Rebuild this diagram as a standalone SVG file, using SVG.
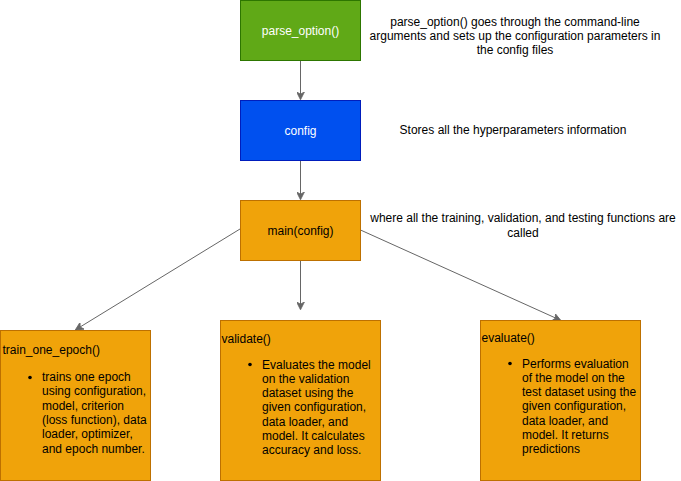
<svg xmlns="http://www.w3.org/2000/svg" width="681" height="481" viewBox="0 0 681 481">
<style>
text{font-family:"Liberation Sans",Arial,Helvetica,sans-serif;font-size:12px;fill:#000}
.w{fill:#fff}
.c{text-anchor:middle}
.edge{stroke:#666;stroke-width:1;fill:none}
.org{fill:#f0a30a;stroke:#bd7000}
</style>
<defs>
<marker id="ah" viewBox="0 0 10 10" refX="9" refY="5" markerWidth="8" markerHeight="8" markerUnits="userSpaceOnUse" orient="auto">
<path d="M0,0 L10,5 L0,10 L3,5 Z" fill="#666" stroke="#666"/>
</marker>
</defs>
<rect width="681" height="481" fill="#fff"/>
<g id="connectors">
<line class="edge" x1="300.5" y1="60.5" x2="300.5" y2="99" marker-end="url(#ah)"/>
<line class="edge" x1="300.5" y1="160.5" x2="300.5" y2="199" marker-end="url(#ah)"/>
<line class="edge" x1="300.5" y1="260.5" x2="300.5" y2="309" marker-end="url(#ah)"/>
<line class="edge" x1="240" y1="229" x2="76" y2="329.5" marker-end="url(#ah)"/>
<line class="edge" x1="360.5" y1="230" x2="560" y2="320" marker-end="url(#ah)"/>
</g>
<g id="parse_option">
<rect x="240.5" y="0.5" width="120" height="60" fill="#60a917" stroke="#2d7600"/>
<text class="c w" x="300.5" y="34.5">parse_option()</text>
</g>
<g id="config">
<rect x="240.5" y="100.5" width="120" height="60" fill="#0050ef" stroke="#001dbc"/>
<text class="c w" x="300.5" y="134.5">config</text>
</g>
<g id="main">
<rect class="org" x="240.5" y="200.5" width="120" height="60"/>
<text class="c" x="300.5" y="234.5">main(config)</text>
</g>
<g id="note_parse">
<text class="c" x="515" y="25.5">parse_option() goes through the command-line</text>
<text class="c" x="515" y="39.5">arguments and sets up the configuration parameters in</text>
<text class="c" x="515" y="54">the config files</text>
</g>
<g id="note_config">
<text class="c" x="513" y="134">Stores all the hyperparameters information</text>
</g>
<g id="note_main">
<text class="c" x="523" y="222">where all the training, validation, and testing functions are</text>
<text class="c" x="523" y="237">called</text>
</g>
<g id="train_one_epoch">
<rect class="org" x="0.5" y="330.5" width="150" height="150"/>
<text x="2.5" y="354">train_one_epoch()</text>
<circle cx="30" cy="377.5" r="1.8"/>
<text x="42" y="381">trains one epoch</text>
<text x="42" y="395.3">using configuration,</text>
<text x="42" y="409.6">model, criterion</text>
<text x="42" y="423.9">(loss function), data</text>
<text x="42" y="438.2">loader, optimizer,</text>
<text x="42" y="452.5">and epoch number.</text>
</g>
<g id="validate">
<rect class="org" x="220.5" y="320.5" width="160" height="160"/>
<text x="221.5" y="343">validate()</text>
<circle cx="250" cy="364.5" r="1.8"/>
<text x="262" y="368.5">Evaluates the model</text>
<text x="262" y="382.8">on the validation</text>
<text x="262" y="397.1">dataset using the</text>
<text x="262" y="411.4">given configuration,</text>
<text x="262" y="425.7">data loader, and</text>
<text x="262" y="440">model. It calculates</text>
<text x="262" y="454.3">accuracy and loss.</text>
</g>
<g id="evaluate">
<rect class="org" x="480.5" y="320.5" width="160" height="160"/>
<text x="481.5" y="342">evaluate()</text>
<circle cx="510" cy="363.5" r="1.8"/>
<text x="522" y="367.5">Performs evaluation</text>
<text x="522" y="381.8">of the model on the</text>
<text x="522" y="396.1">test dataset using the</text>
<text x="522" y="410.4">given configuration,</text>
<text x="522" y="424.7">data loader, and</text>
<text x="522" y="439">model. It returns</text>
<text x="522" y="453.3">predictions</text>
</g>
</svg>
